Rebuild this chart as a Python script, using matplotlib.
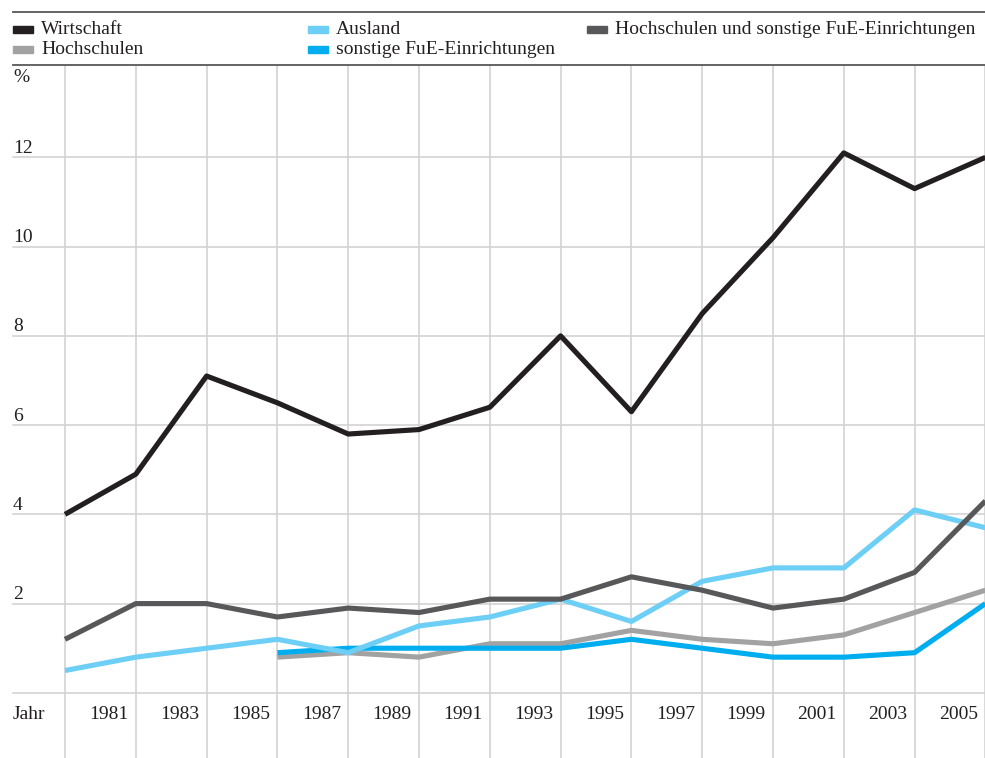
import matplotlib
matplotlib.use("Agg")
import matplotlib.pyplot as plt
from matplotlib.lines import Line2D
from matplotlib.patches import Rectangle

plt.rcParams['font.family'] = ['Liberation Serif', 'DejaVu Serif']

year_labels = ["1981", "1983", "1985", "1987", "1989", "1991", "1993",
               "1995", "1997", "1999", "2001", "2003", "2005"]
y_ticks = [2, 4, 6, 8, 10, 12]

wirtschaft = [4.0, 4.9, 7.1, 6.5, 5.8, 5.9, 6.4, 8.0, 6.3, 8.5, 10.2, 12.1, 11.3, 12.0]
hus = [1.2, 2.0, 2.0, 1.7, 1.9, 1.8, 2.1, 2.1, 2.6, 2.3, 1.9, 2.1, 2.7, 4.3]
ausland = [0.5, 0.8, 1.0, 1.2, 0.9, 1.5, 1.7, 2.1, 1.6, 2.5, 2.8, 2.8, 4.1, 3.7]
hochschulen = [None, None, None, 0.8, 0.9, 0.8, 1.1, 1.1, 1.4, 1.2, 1.1, 1.3, 1.8, 2.3]
sonstige = [None, None, None, 0.9, 1.0, 1.0, 1.0, 1.0, 1.2, 1.0, 0.8, 0.8, 0.9, 2.0]

names = ["Wirtschaft", "Hochschulen", "Ausland", "sonstige FuE-Einrichtungen",
         "Hochschulen und sonstige FuE-Einrichtungen"]
colors = {"Wirtschaft": "#231f20", "Hochschulen": "#a2a2a3", "Ausland": "#6dcff6",
          "sonstige FuE-Einrichtungen": "#00aeef",
          "Hochschulen und sonstige FuE-Einrichtungen": "#58585a"}

W, H = 985, 758
fig = plt.figure(figsize=(W / 100, H / 100), dpi=100)
ax = fig.add_axes([0, 0, 1, (H - 65) / H])
px_per_x = 70.8
x0_px = 65
xmin = (0 - x0_px) / px_per_x
xmax = (W - x0_px) / px_per_x
ax.set_xlim(xmin, xmax)
ax.set_ylim(-1.46, 14.07)
ax.axis('off')

grid_c = "#d0d0d0"
xl = (13 - x0_px) / px_per_x
# horizontal grid
for v in [0] + y_ticks:
    ax.plot([xl, xmax], [v, v], color=grid_c, lw=1.1, zorder=1)
    if v > 0:
        ax.text(xl, v + 0.1, str(v), ha='left', va='baseline', fontsize=14, color="#231f20")
# vertical grid
for i in range(14):
    ax.plot([i, i], [-1.46, 14.07], color=grid_c, lw=1.1, zorder=1)

ax.text(xl, 13.78, "%", ha='left', va='center', fontsize=14, color="#231f20")
ax.text(xl, -0.48, "Jahr", ha='left', va='center', fontsize=14, color="#231f20")
for i, lab in enumerate(year_labels):
    ax.text(i + 0.62, -0.48, lab, ha='center', va='center', fontsize=14, color="#231f20")

def plot_series(vals, name, z):
    xs = [i for i, v in enumerate(vals) if v is not None]
    ys = [v for v in vals if v is not None]
    ax.plot(xs, ys, color=colors[name], lw=3.7, zorder=z, solid_capstyle='butt')

plot_series(hochschulen, "Hochschulen", 3)
plot_series(sonstige, "sonstige FuE-Einrichtungen", 4)
plot_series(ausland, "Ausland", 5)
plot_series(hus, "Hochschulen und sonstige FuE-Einrichtungen", 6)
plot_series(wirtschaft, "Wirtschaft", 7)

# top rules
for ypx in [12, 65]:
    fig.add_artist(Line2D([13 / W, 1], [1 - ypx / H, 1 - ypx / H], color="#58585a", lw=1.3))

# legend
leg_items = [("Wirtschaft", 13, 29), ("Hochschulen", 13, 49),
             ("Ausland", 308, 29), ("sonstige FuE-Einrichtungen", 308, 49),
             ("Hochschulen und sonstige FuE-Einrichtungen", 587, 29)]
for name, xpx, ypx in leg_items:
    fig.add_artist(Rectangle((xpx / W, 1 - (ypx + 3.5) / H), 20 / W, 7 / H,
                             transform=fig.transFigure, color=colors[name]))
    fig.text((xpx + 28) / W, 1 - ypx / H, name, ha='left', va='center',
             fontsize=14, color="#231f20")

fig.savefig("out.png", dpi=100)
